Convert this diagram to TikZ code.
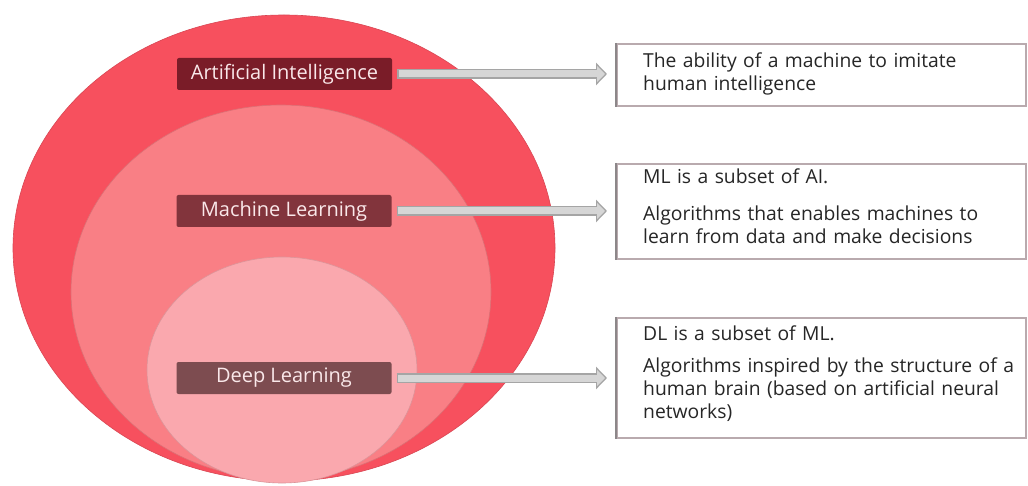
\documentclass[tikz,border=0pt]{standalone}
\usepackage{fontspec}
\setmainfont{Open Sans}
\usetikzlibrary{arrows.meta,shapes.geometric}
\definecolor{aiRed}{RGB}{247,80,94}
\definecolor{mlRed}{RGB}{249,127,133}
\definecolor{dlRed}{RGB}{250,168,174}
\definecolor{aiLab}{RGB}{122,28,40}
\definecolor{mlLab}{RGB}{130,52,60}
\definecolor{dlLab}{RGB}{125,76,80}
\definecolor{labText}{RGB}{250,232,234}
\definecolor{arrFill}{RGB}{214,214,214}
\definecolor{arrEdge}{RGB}{165,165,165}
\definecolor{boxEdge}{RGB}{185,170,174}
\definecolor{boxLeft}{RGB}{140,135,137}
\begin{document}
\begin{tikzpicture}[x=1pt,y=-1pt,
  setell/.style={ellipse, draw=#1!88!black, line width=0.6pt, fill=#1, inner sep=0pt},
  lab/.style={rounded corners=2pt, minimum width=215pt, minimum height=32pt, inner sep=0pt, text=labText, font=\fontsize{20}{22}\selectfont},
  descbox/.style={draw=boxEdge, line width=2pt, fill=white, minimum width=409pt, anchor=north west, inner sep=0pt},
  desctext/.style={anchor=west, inner sep=0pt, text width=380pt, align=left, font=\fontsize{19.3}{23}\selectfont, text=black!85},
  connout/.style={draw=arrEdge, line width=10pt, -{Triangle[length=11pt,width=22pt]}, shorten <=5pt, shorten >=9pt},
  connin/.style={draw=arrFill, line width=7pt, -{Triangle[length=8pt,width=16pt]}, shorten <=6.5pt, shorten >=11pt}
]
\useasboundingbox (0,0) rectangle (1028,486);
\fill[white] (0,0) rectangle (1028,486);

\node[setell=aiRed, minimum width=542pt, minimum height=466pt] (ai) at (284,248) {};
\node[setell=mlRed, minimum width=420pt, minimum height=374pt] (ml) at (281,292) {};
\node[setell=dlRed, minimum width=270pt, minimum height=226pt] (dl) at (282,370) {};

\node[lab, fill=aiLab] (ailab) at (284.5,74) {Artificial Intelligence};
\node[lab, fill=mlLab] (mllab) at (284,211) {Machine Learning};
\node[lab, fill=dlLab] (dllab) at (284,378) {Deep Learning};

\node[descbox, minimum height=62pt] (aibox) at (616,43) {};
\node[descbox, minimum height=95pt] (mlbox) at (616,163) {};
\node[descbox, minimum height=120pt] (dlbox) at (616,317) {};
\foreach \b in {aibox,mlbox,dlbox}
  \draw[boxLeft, line width=2.5pt] (\b.north west) -- (\b.south west);

\node[desctext] (aitext) at ([xshift=27pt,yshift=1.5pt]aibox.west) {The ability of a machine to imitate\\human intelligence};
\node[desctext] (mltext) at ([xshift=27pt,yshift=5pt]mlbox.west) {ML is a subset of AI.\\[14pt]Algorithms that enables machines to\\learn from data and make decisions};
\node[desctext] (dltext) at ([xshift=27pt,yshift=4.5pt]dlbox.west) {DL is a subset of ML.\\[9pt]Algorithms inspired by the structure of a\\human brain (based on artificial neural\\networks)};

\foreach \l/\b in {ailab/aibox,mllab/mlbox,dllab/dlbox}{
  \draw[connout] (\l.east) -- (\l.east -| \b.west);
  \draw[connin] (\l.east) -- (\l.east -| \b.west);
}
\end{tikzpicture}
\end{document}
